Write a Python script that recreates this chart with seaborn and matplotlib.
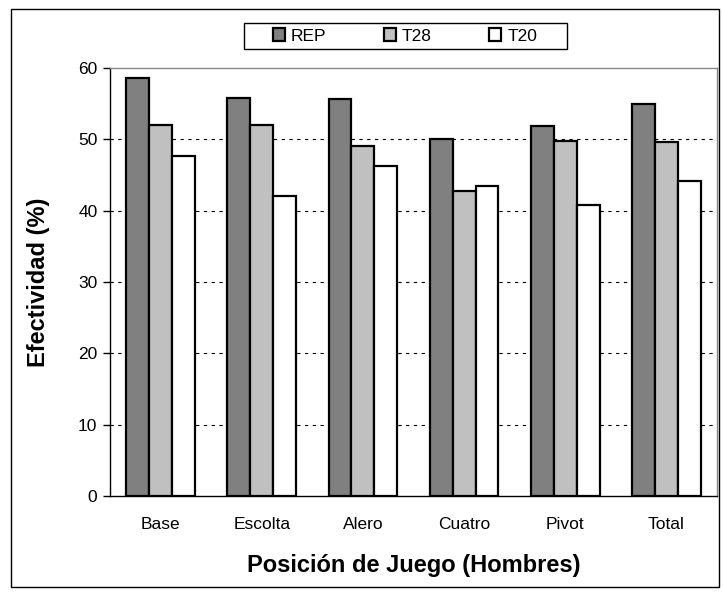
import matplotlib
matplotlib.use("Agg")
import matplotlib.pyplot as plt
import seaborn as sns
import pandas as pd
import numpy as np
from matplotlib.patches import Rectangle

categories = ["Base", "Escolta", "Alero", "Cuatro", "Pivot", "Total"]
series_names = ["REP", "T28", "T20"]
rep = [58.6, 55.8, 55.6, 50.1, 51.9, 54.9]
t28 = [52.0, 52.0, 49.1, 42.7, 49.8, 49.6]
t20 = [47.6, 42.0, 46.3, 43.4, 40.8, 44.2]
colors = ["#808080", "#c0c0c0", "#ffffff"]
yticks = [0, 10, 20, 30, 40, 50, 60]

df = pd.DataFrame({
    "Posicion": categories * 3,
    "Serie": [s for s in series_names for _ in categories],
    "Valor": rep + t28 + t20,
})

sns.set_style("white")
plt.rcParams["font.family"] = ["Liberation Sans", "DejaVu Sans"]
plt.rcParams["text.color"] = "black"
plt.rcParams["axes.labelcolor"] = "black"
plt.rcParams["xtick.color"] = "black"
plt.rcParams["ytick.color"] = "black"

fig = plt.figure(figsize=(7.23, 5.96), dpi=100)
ax = fig.add_axes([110 / 723, 1 - 496 / 596, (717 - 110) / 723, (496 - 68) / 596])

sns.barplot(data=df, x="Posicion", y="Valor", hue="Serie", order=categories,
            hue_order=series_names, palette=colors, width=0.68,
            edgecolor="black", linewidth=1.6, saturation=1, ax=ax, legend=True)

ax.set_ylim(0, 60)
ax.set_xlim(-0.5, len(categories) - 0.5)
ax.set_yticks(yticks)
ax.set_yticklabels([str(v) for v in yticks], fontsize=12.5)
ax.set_xticks(range(len(categories)))
ax.set_xticklabels(categories, fontsize=12.5)
ax.tick_params(axis="x", which="major", length=0, pad=15)
ax.set_xticks(np.arange(-0.5, len(categories), 1.0), minor=True)
ax.tick_params(axis="x", which="minor", length=5, direction="out", width=1, color="black")
ax.tick_params(axis="y", length=5, direction="out", width=1, color="black", left=True, pad=4)

for v in yticks[1:-1]:
    ax.axhline(v, color="black", linestyle=(0, (3, 4)), linewidth=0.8, zorder=0)
ax.set_axisbelow(True)

for s in ["left", "bottom"]:
    ax.spines[s].set_color("black")
    ax.spines[s].set_linewidth(1.0)
for s in ["top", "right"]:
    ax.spines[s].set_color("#888888")
    ax.spines[s].set_linewidth(1.0)
    ax.spines[s].set_visible(True)

ax.set_xlabel("Posición de Juego (Hombres)", fontsize=17, fontweight="bold", labelpad=16,
              color="black")
ax.set_ylabel("Efectividad (%)", fontsize=17, fontweight="bold", labelpad=20, color="black")

leg = ax.legend(loc="center", bbox_to_anchor=(405 / 723, 1 - 36 / 596),
                bbox_transform=fig.transFigure, ncol=3, frameon=False,
                fontsize=12.5, handlelength=0.7, handleheight=0.7, handletextpad=0.35,
                columnspacing=3.3, borderpad=0.0, borderaxespad=0)
for t in leg.get_texts():
    t.set_color("black")

fig.patches.append(Rectangle((244 / 723, 1 - 49 / 596), (567 - 244) / 723, (49 - 23) / 596,
                             transform=fig.transFigure, fill=False, edgecolor="black",
                             linewidth=1.0))
fig.patches.append(Rectangle((11 / 723, 1 - 587 / 596), (719 - 11) / 723, (587 - 9) / 596,
                             transform=fig.transFigure, fill=False, edgecolor="black",
                             linewidth=1.0))

fig.savefig("out.png", dpi=100, facecolor="white")
